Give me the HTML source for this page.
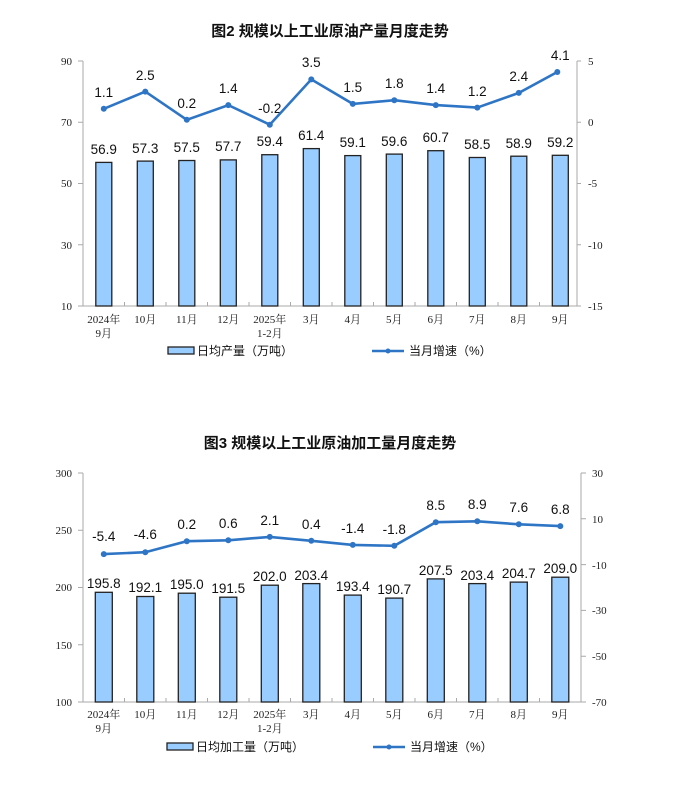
<!DOCTYPE html>
<html><head><meta charset="utf-8"><style>
body{margin:0;background:#fff}
svg{display:block}
.t{font-family:"Liberation Sans","Noto Sans CJK SC",sans-serif;font-weight:bold;font-size:15px;fill:#111}
.v{font-family:"Liberation Sans","Noto Sans CJK SC",sans-serif;font-size:13.5px;fill:#111;text-anchor:middle}
.k{font-family:"Liberation Serif","Noto Serif CJK SC",serif;font-size:11px;fill:#222}
.x{font-family:"Liberation Serif","Noto Serif CJK SC",serif;font-size:11px;fill:#222;text-anchor:middle}
.l{font-family:"Liberation Sans","Noto Sans CJK SC",sans-serif;font-size:12px;fill:#111}
.b{fill:#99ccff;stroke:#222;stroke-width:1.3}
.ln{fill:none;stroke:#2e75c5;stroke-width:2.6}
.ax{stroke:#aaa;stroke-width:1;fill:none}
</style></head><body>
<svg width="684" height="791" viewBox="0 0 684 791">
<text class="t" x="330" y="36" text-anchor="middle">图2  规模以上工业原油产量月度走势</text>
<path class="ax" d="M83 61V306H577V61 M78 61H83M78 122.25H83M78 183.5H83M78 244.75H83M78 306H83 M577 61H581M577 122.25H581M577 183.5H581M577 244.75H581M577 306H581 M124.5 306v-4M166 306v-4M207.5 306v-4M249 306v-4M290.5 306v-4M332 306v-4M373.5 306v-4M415 306v-4M456.5 306v-4M498 306v-4M539.5 306v-4"/>
<g class="k" text-anchor="end"><text x="72" y="65">90</text><text x="72" y="126">70</text><text x="72" y="187">50</text><text x="72" y="249">30</text><text x="72" y="310">10</text></g>
<g class="k"><text x="588" y="65">5</text><text x="588" y="126">0</text><text x="588" y="187">-5</text><text x="588" y="249">-10</text><text x="588" y="310">-15</text></g>
<rect class="b" x="95.8" y="162.4" width="16" height="143.6"/>
<rect class="b" x="137.3" y="161.1" width="16" height="144.9"/>
<rect class="b" x="178.8" y="160.5" width="16" height="145.5"/>
<rect class="b" x="220.3" y="159.9" width="16" height="146.1"/>
<rect class="b" x="261.8" y="154.7" width="16" height="151.3"/>
<rect class="b" x="303.3" y="148.6" width="16" height="157.4"/>
<rect class="b" x="344.8" y="155.6" width="16" height="150.4"/>
<rect class="b" x="386.3" y="154.1" width="16" height="151.9"/>
<rect class="b" x="427.8" y="150.7" width="16" height="155.3"/>
<rect class="b" x="469.3" y="157.5" width="16" height="148.5"/>
<rect class="b" x="510.8" y="156.2" width="16" height="149.8"/>
<rect class="b" x="552.3" y="155.3" width="16" height="150.7"/>
<g class="v">
<text x="103.8" y="154">56.9</text><text x="145.3" y="153">57.3</text><text x="186.8" y="152">57.5</text><text x="228.3" y="151">57.7</text><text x="269.8" y="146">59.4</text><text x="311.3" y="140">61.4</text><text x="352.8" y="147">59.1</text><text x="394.3" y="146">59.6</text><text x="435.8" y="142">60.7</text><text x="477.3" y="149">58.5</text><text x="518.8" y="148">58.9</text><text x="560.3" y="147">59.2</text>
<text x="103.8" y="97">1.1</text><text x="145.3" y="80">2.5</text><text x="186.8" y="108">0.2</text><text x="228.3" y="93">1.4</text><text x="269.8" y="113">-0.2</text><text x="311.3" y="67">3.5</text><text x="352.8" y="92">1.5</text><text x="394.3" y="88">1.8</text><text x="435.8" y="93">1.4</text><text x="477.3" y="96">1.2</text><text x="518.8" y="81">2.4</text><text x="560.3" y="60">4.1</text>
</g>
<polyline class="ln" points="103.8,108.8 145.3,91.6 186.8,119.8 228.3,105.1 269.8,124.7 311.3,79.4 352.8,103.9 394.3,100.2 435.8,105.1 477.3,107.6 518.8,92.9 557.3,72"/>
<g fill="#2e75c5"><circle cx="103.8" cy="108.8" r="3"/><circle cx="145.3" cy="91.6" r="3"/><circle cx="186.8" cy="119.8" r="3"/><circle cx="228.3" cy="105.1" r="3"/><circle cx="269.8" cy="124.7" r="3"/><circle cx="311.3" cy="79.4" r="3"/><circle cx="352.8" cy="103.9" r="3"/><circle cx="394.3" cy="100.2" r="3"/><circle cx="435.8" cy="105.1" r="3"/><circle cx="477.3" cy="107.6" r="3"/><circle cx="518.8" cy="92.9" r="3"/><circle cx="557.3" cy="72" r="3"/></g>
<g class="x"><text x="103.8" y="323">2024年</text><text x="103.8" y="337">9月</text><text x="145.3" y="323">10月</text><text x="186.8" y="323">11月</text><text x="228.3" y="323">12月</text><text x="269.8" y="323">2025年</text><text x="269.8" y="337">1-2月</text><text x="311.3" y="323">3月</text><text x="352.8" y="323">4月</text><text x="394.3" y="323">5月</text><text x="435.8" y="323">6月</text><text x="477.3" y="323">7月</text><text x="518.8" y="323">8月</text><text x="560.3" y="323">9月</text></g>
<rect class="b" x="168" y="347" width="26" height="7"/><text class="l" x="197" y="355">日均产量（万吨）</text>
<path class="ln" d="M372 351H404"/><circle cx="388" cy="351" r="2.5" fill="#2e75c5"/><text class="l" x="409" y="355">当月增速（%）</text>

<text class="t" x="330" y="448" text-anchor="middle">图3  规模以上工业原油加工量月度走势</text>
<path class="ax" d="M83 473V702H581V473 M78 473H83M78 530.25H83M78 587.5H83M78 644.75H83M78 702H83 M581 473H586M581 518.8H586M581 564.6H586M581 610.4H586M581 656.2H586M581 702H586 M124.5 702v-4M166 702v-4M207.5 702v-4M249 702v-4M290.5 702v-4M332 702v-4M373.5 702v-4M415 702v-4M456.5 702v-4M498 702v-4M539.5 702v-4"/>
<g class="k" text-anchor="end"><text x="72" y="477">300</text><text x="72" y="534">250</text><text x="72" y="591">200</text><text x="72" y="649">150</text><text x="72" y="706">100</text></g>
<g class="k"><text x="592" y="477">30</text><text x="592" y="523">10</text><text x="592" y="569">-10</text><text x="592" y="614">-30</text><text x="592" y="660">-50</text><text x="592" y="706">-70</text></g>
<rect class="b" x="95.3" y="592.3" width="17" height="109.7"/>
<rect class="b" x="136.8" y="596.5" width="17" height="105.5"/>
<rect class="b" x="178.3" y="593.2" width="17" height="108.8"/>
<rect class="b" x="219.8" y="597.2" width="17" height="104.8"/>
<rect class="b" x="261.3" y="585.2" width="17" height="116.8"/>
<rect class="b" x="302.8" y="583.6" width="17" height="118.4"/>
<rect class="b" x="344.3" y="595.1" width="17" height="106.9"/>
<rect class="b" x="385.8" y="598.1" width="17" height="103.9"/>
<rect class="b" x="427.3" y="578.9" width="17" height="123.1"/>
<rect class="b" x="468.8" y="583.6" width="17" height="118.4"/>
<rect class="b" x="510.3" y="582.1" width="17" height="119.9"/>
<rect class="b" x="551.8" y="577.2" width="17" height="124.8"/>
<g class="v">
<text x="103.8" y="588">195.8</text><text x="145.3" y="592">192.1</text><text x="186.8" y="589">195.0</text><text x="228.3" y="593">191.5</text><text x="269.8" y="581">202.0</text><text x="311.3" y="580">203.4</text><text x="352.8" y="591">193.4</text><text x="394.3" y="594">190.7</text><text x="435.8" y="575">207.5</text><text x="477.3" y="580">203.4</text><text x="518.8" y="578">204.7</text><text x="560.3" y="573">209.0</text>
<text x="103.8" y="541">-5.4</text><text x="145.3" y="539">-4.6</text><text x="186.8" y="529">0.2</text><text x="228.3" y="528">0.6</text><text x="269.8" y="525">2.1</text><text x="311.3" y="529">0.4</text><text x="352.8" y="533">-1.4</text><text x="394.3" y="534">-1.8</text><text x="435.8" y="510">8.5</text><text x="477.3" y="509">8.9</text><text x="518.8" y="512">7.6</text><text x="560.3" y="514">6.8</text>
</g>
<polyline class="ln" points="103.8,554.1 145.3,552.2 186.8,541.2 228.3,540.3 269.8,536.9 311.3,540.8 352.8,544.9 394.3,545.8 435.8,522.2 477.3,521.3 518.8,524.3 560.3,526.1"/>
<g fill="#2e75c5"><circle cx="103.8" cy="554.1" r="3"/><circle cx="145.3" cy="552.2" r="3"/><circle cx="186.8" cy="541.2" r="3"/><circle cx="228.3" cy="540.3" r="3"/><circle cx="269.8" cy="536.9" r="3"/><circle cx="311.3" cy="540.8" r="3"/><circle cx="352.8" cy="544.9" r="3"/><circle cx="394.3" cy="545.8" r="3"/><circle cx="435.8" cy="522.2" r="3"/><circle cx="477.3" cy="521.3" r="3"/><circle cx="518.8" cy="524.3" r="3"/><circle cx="560.3" cy="526.1" r="3"/></g>
<g class="x"><text x="103.8" y="718">2024年</text><text x="103.8" y="732">9月</text><text x="145.3" y="718">10月</text><text x="186.8" y="718">11月</text><text x="228.3" y="718">12月</text><text x="269.8" y="718">2025年</text><text x="269.8" y="732">1-2月</text><text x="311.3" y="718">3月</text><text x="352.8" y="718">4月</text><text x="394.3" y="718">5月</text><text x="435.8" y="718">6月</text><text x="477.3" y="718">7月</text><text x="518.8" y="718">8月</text><text x="560.3" y="718">9月</text></g>
<rect class="b" x="167" y="743" width="26" height="7"/><text class="l" x="196" y="751">日均加工量（万吨）</text>
<path class="ln" d="M373 747H405"/><circle cx="389" cy="747" r="2.5" fill="#2e75c5"/><text class="l" x="410" y="751">当月增速（%）</text>
</svg>
</body></html>
